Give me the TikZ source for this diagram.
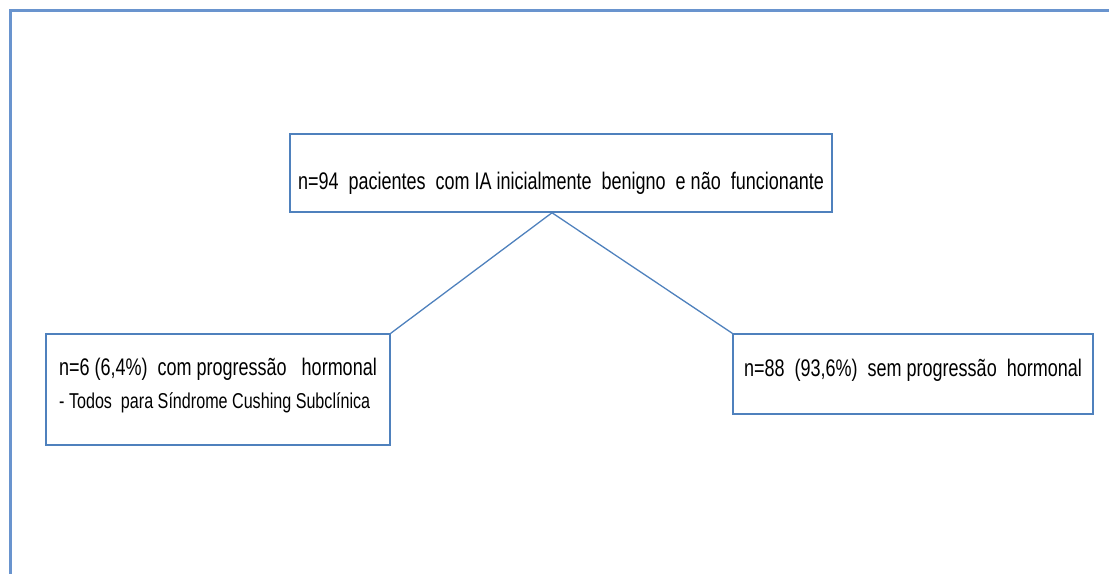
\documentclass[tikz,border=0pt]{standalone}
\usepackage{fontspec}
\setmainfont{Liberation Sans}[FakeStretch=0.75]
\usepackage{xcolor}
\usetikzlibrary{positioning}
\definecolor{boxblue}{RGB}{79,129,189}
\definecolor{frameblue}{RGB}{105,148,206}
\tikzstyle{box}  = [rectangle, draw=boxblue, line width=1.5pt, inner sep=0pt]
\tikzstyle{link} = [draw=boxblue, line width=1.3pt]
\tikzset{every node/.style={align=left}}

\begin{document}
\begin{tikzpicture}[x=1pt, y=-1pt]
  \useasboundingbox (0,0) rectangle (1109,574);
  % outer frame (top and left only)
  \draw[frameblue, line width=3pt] (1109,10) -- (10,10) -- (10,574);

  % top box
  \node[box, minimum width=542pt, minimum height=78pt] (total) at (561,173)
      {\fontsize{24}{28}\selectfont\raisebox{-10pt}[\height][\depth]{n=94 \ pacientes \ com IA inicialmente \ benigno \ e n\~ao \ funcionante}};

  % two branches
  \node[box, minimum width=344pt, minimum height=111pt] (prog) at (218,389.5)
      {\fontsize{24}{28}\selectfont n=6 (6,4\%) \ com progress\~ao \ \ hormonal\\[12pt]
       \fontsize{21.5}{24}\selectfont - Todos \ para S\'indrome Cushing Subcl\'inica\rule[-12.5pt]{0pt}{0pt}};
  \node[box, minimum width=360pt, minimum height=80pt] (semprog) at (913,374)
      {\fontsize{24}{28}\selectfont\raisebox{4pt}[\height][\depth]{n=88 \ (93,6\%) \ sem progress\~ao \ hormonal}};

  % connectors
  \coordinate (apex) at ([xshift=-9pt]total.south);
  \draw[link] (apex) -- (prog.north east);
  \draw[link] (apex) -- (semprog.north west);
\end{tikzpicture}
\end{document}
